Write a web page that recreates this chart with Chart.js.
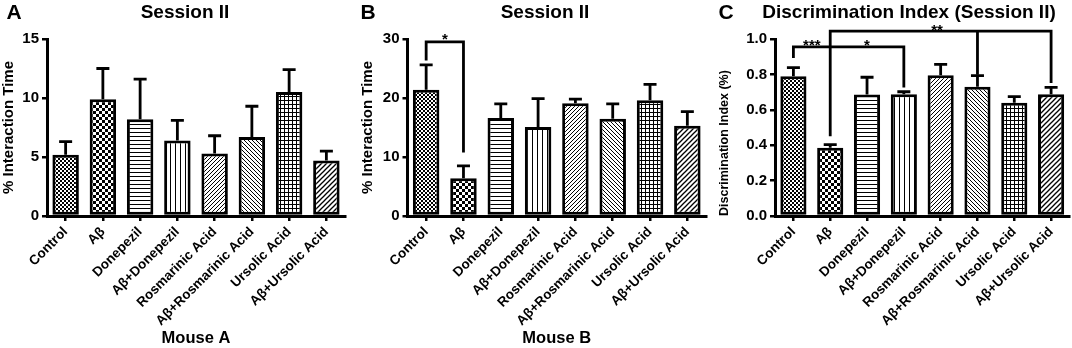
<!DOCTYPE html>
<html>
<head>
<meta charset="utf-8">
<script src="https://cdn.jsdelivr.net/npm/chart.js@4.4.0/dist/chart.umd.min.js"></script>
<style>
body { margin: 0; background: #fff; width: 1072px; height: 348px; overflow: hidden; position: relative; }
.panel { position: absolute; top: 0; height: 348px; }
</style>
</head>
<body>
<div class="panel" style="left:0;width:357px"><canvas id="chart-a" width="357" height="348"></canvas></div>
<div class="panel" style="left:357px;width:357px"><canvas id="chart-b" width="357" height="348"></canvas></div>
<div class="panel" style="left:714px;width:358px"><canvas id="chart-c" width="358" height="348"></canvas></div>
<script>
const groups = ['Control', 'Aβ', 'Donepezil', 'Aβ+Donepezil', 'Rosmarinic Acid',
    'Aβ+Rosmarinic Acid', 'Ursolic Acid', 'Aβ+Ursolic Acid'];

// Mouse A, % interaction time (mean, SEM)
const mouseAMean = [5.2, 9.9, 8.2, 6.4, 5.3, 6.7, 10.5, 4.7];
const mouseASem = [1.1, 2.6, 3.4, 1.7, 1.5, 2.6, 1.9, 0.8];

// Mouse B, % interaction time
const mouseBMean = [21.4, 6.4, 16.6, 15.1, 19.1, 16.5, 19.6, 15.3];
const mouseBSem = [4.2, 2.1, 2.4, 4.8, 0.7, 2.5, 2.7, 2.4];

// Discrimination index
const discMean = [0.79, 0.386, 0.686, 0.688, 0.795, 0.73, 0.64, 0.688];
const discSem = [0.048, 0.017, 0.098, 0.014, 0.062, 0.063, 0.034, 0.039];

// significance brackets: horizontal line at "level" between two groups, drops down at groups
const bracketsB = [
    { level: 29.5, from: 0, to: 1, drops: [[0, 26.6], [1, 11.0]] }
];
const starsB = [{ at: 0.5, level: 30.6, text: '*' }];

const bracketsC = [
    { level: 0.955, from: 0, to: 3, drops: [[0, 0.90], [3, 0.734]] },
    { level: 1.045, from: 1, to: 7, drops: [[1, 0.458], [5, 0.806], [7, 0.759]] }
];
const starsC = [
    { at: 0.5, level: 0.985, text: '***' },
    { at: 2.0, level: 0.985, text: '*' },
    { at: 3.9, level: 1.072, text: '**' }
];

const FONT = 'Liberation Sans, Arial, sans-serif';

function makePattern(kind) {
    const c = document.createElement('canvas');
    const size = { fineCheck: 4, check: 6, horiz: 4, vert: 5, diagUp: 4, diagDown: 4, grid: 4, diagWide: 5 }[kind];
    c.width = size; c.height = size;
    const g = c.getContext('2d');
    g.fillStyle = '#fff';
    g.fillRect(0, 0, size, size);
    g.fillStyle = '#000';
    g.strokeStyle = '#000';
    if (kind === 'fineCheck' || kind === 'check') {
        const h = size / 2;
        g.fillRect(0, 0, h, h);
        g.fillRect(h, h, h, h);
    } else if (kind === 'horiz') {
        g.fillRect(0, 0, size, 1);
    } else if (kind === 'vert') {
        g.fillRect(0, 0, 1, size);
    } else if (kind === 'grid') {
        g.fillRect(0, 0, size, 1);
        g.fillRect(0, 0, 1, size);
    } else {
        g.lineWidth = kind === 'diagWide' ? 1.3 : 1;
        const down = kind === 'diagDown';
        for (let o = -size; o <= size; o += size) {
            g.beginPath();
            if (down) {
                g.moveTo(o - 1, -1); g.lineTo(o + size + 1, size + 1);
            } else {
                g.moveTo(o - 1, size + 1); g.lineTo(o + size + 1, -1);
            }
            g.stroke();
        }
    }
    return g.createPattern(c, 'repeat');
}

const patterns = ['fineCheck', 'check', 'horiz', 'vert', 'diagUp', 'diagDown', 'grid', 'diagWide'].map(makePattern);

const errorBars = {
    id: 'errorBars',
    afterDatasetsDraw(chart, args, opts) {
        const ctx = chart.ctx;
        const y = chart.scales.y;
        const meta = chart.getDatasetMeta(0);
        ctx.save();
        ctx.strokeStyle = '#000';
        ctx.lineWidth = 2.8;
        meta.data.forEach((bar, i) => {
            const v = chart.data.datasets[0].data[i];
            const top = y.getPixelForValue(v + opts.sem[i]);
            ctx.beginPath();
            ctx.moveTo(bar.x, bar.y);
            ctx.lineTo(bar.x, top);
            ctx.moveTo(bar.x - 6.5, top);
            ctx.lineTo(bar.x + 6.5, top);
            ctx.stroke();
        });
        ctx.restore();
    }
};

const brackets = {
    id: 'brackets',
    afterDraw(chart, args, opts) {
        if (!opts.lines) return;
        const ctx = chart.ctx;
        const x = chart.scales.x, y = chart.scales.y;
        ctx.save();
        ctx.strokeStyle = '#000';
        ctx.lineWidth = 2.8;
        ctx.lineCap = 'square';
        opts.lines.forEach(b => {
            const ly = y.getPixelForValue(b.level);
            ctx.beginPath();
            ctx.moveTo(x.getPixelForValue(b.from), ly);
            ctx.lineTo(x.getPixelForValue(b.to), ly);
            b.drops.forEach(d => {
                const dx = x.getPixelForValue(d[0]);
                ctx.moveTo(dx, ly);
                ctx.lineTo(dx, y.getPixelForValue(d[1]));
            });
            ctx.stroke();
        });
        ctx.fillStyle = '#000';
        ctx.font = 'bold 15px ' + FONT;
        ctx.textAlign = 'center';
        ctx.textBaseline = 'alphabetic';
        opts.stars.forEach(s => {
            const px = x.left + (s.at + 0.5) * (x.width / chart.data.labels.length);
            ctx.fillText(s.text, px, y.getPixelForValue(s.level) + 8.5);
        });
        ctx.restore();
    }
};

const panelText = {
    id: 'panelText',
    afterDraw(chart, args, opts) {
        const ctx = chart.ctx;
        ctx.save();
        ctx.fillStyle = '#000';
        ctx.textBaseline = 'middle';
        ctx.font = 'bold 21px ' + FONT;
        ctx.textAlign = 'center';
        ctx.fillText(opts.letter, opts.letterX, 13);
        ctx.font = 'bold 19px ' + FONT;
        ctx.fillText(opts.title, opts.titleX, 13);
        ctx.restore();
    }
};

function makeChart(id, cfg) {
    const canvas = document.getElementById(id);
    return new Chart(canvas.getContext('2d'), {
        type: 'bar',
        data: {
            labels: groups,
            datasets: [{
                data: cfg.mean,
                backgroundColor: patterns,
                borderColor: '#000',
                borderWidth: 3,
                borderSkipped: false,
                categoryPercentage: 1,
                barPercentage: 0.71
            }]
        },
        options: {
            responsive: false,
            animation: false,
            layout: { padding: { top: 39, left: 0, right: cfg.padRight, bottom: 0 } },
            plugins: {
                legend: { display: false },
                tooltip: { enabled: false },
                errorBars: { sem: cfg.sem },
                brackets: { lines: cfg.brackets, stars: cfg.stars },
                panelText: { letter: cfg.letter, letterX: cfg.letterX, title: cfg.title, titleX: cfg.titleX }
            },
            scales: {
                x: {
                    grid: { display: true, offset: false, drawOnChartArea: false, drawTicks: true, tickLength: 5, color: '#000', lineWidth: 2.5 },
                    border: { display: true, color: '#000', width: 3 },
                    ticks: { color: '#000', font: { family: FONT, size: 13.5, weight: 'bold' }, maxRotation: 45, minRotation: 45, autoSkip: false, padding: 3 },
                    title: { display: !!cfg.xTitle, text: cfg.xTitle, color: '#000', font: { family: FONT, size: 16.5, weight: 'bold' }, padding: { top: 0, bottom: 0 } },
                    afterFit(scale) { scale.height = 348 - 216; }
                },
                y: {
                    min: 0,
                    max: cfg.yMax,
                    grid: { display: true, drawOnChartArea: false, drawTicks: true, tickLength: 5, color: '#000', lineWidth: 2.5 },
                    border: { display: true, color: '#000', width: 3 },
                    ticks: {
                        stepSize: cfg.yStep, color: '#000', padding: 3,
                        font: { family: FONT, size: 15, weight: 'bold' },
                        callback: v => v.toFixed(cfg.decimals)
                    },
                    title: { display: true, text: cfg.yTitle, align: cfg.yTitleAlign, color: '#000', font: { family: FONT, size: cfg.yTitleSize, weight: 'bold' }, padding: { top: cfg.yTitlePad, bottom: 0 } },
                    afterFit(scale) { scale.width = cfg.axisX; }
                }
            }
        },
        plugins: [errorBars, brackets, panelText]
    });
}

makeChart('chart-a', {
    mean: mouseAMean, sem: mouseASem, yMax: 15, yStep: 5, decimals: 0,
    yTitle: '% Interaction Time', yTitleSize: 15, yTitlePad: 0, yTitleAlign: 'center', xTitle: 'Mouse A',
    axisX: 47, padRight: 12, letter: 'A', letterX: 14, title: 'Session II', titleX: 185,
    brackets: null, stars: []
});

makeChart('chart-b', {
    mean: mouseBMean, sem: mouseBSem, yMax: 30, yStep: 10, decimals: 0,
    yTitle: '% Interaction Time', yTitleSize: 15, yTitlePad: 2, yTitleAlign: 'center', xTitle: 'Mouse B',
    axisX: 50.5, padRight: 8, letter: 'B', letterX: 11, title: 'Session II', titleX: 188,
    brackets: bracketsB, stars: starsB
});

makeChart('chart-c', {
    mean: discMean, sem: discSem, yMax: 1.0, yStep: 0.2, decimals: 1,
    yTitle: 'Discrimination Index (%)', yTitleSize: 12.5, yTitlePad: 3, yTitleAlign: 'start', xTitle: '',
    axisX: 61, padRight: 2.5, letter: 'C', letterX: 12, title: 'Discrimination Index (Session II)', titleX: 195,
    brackets: bracketsC, stars: starsC
});
</script>
</body>
</html>
